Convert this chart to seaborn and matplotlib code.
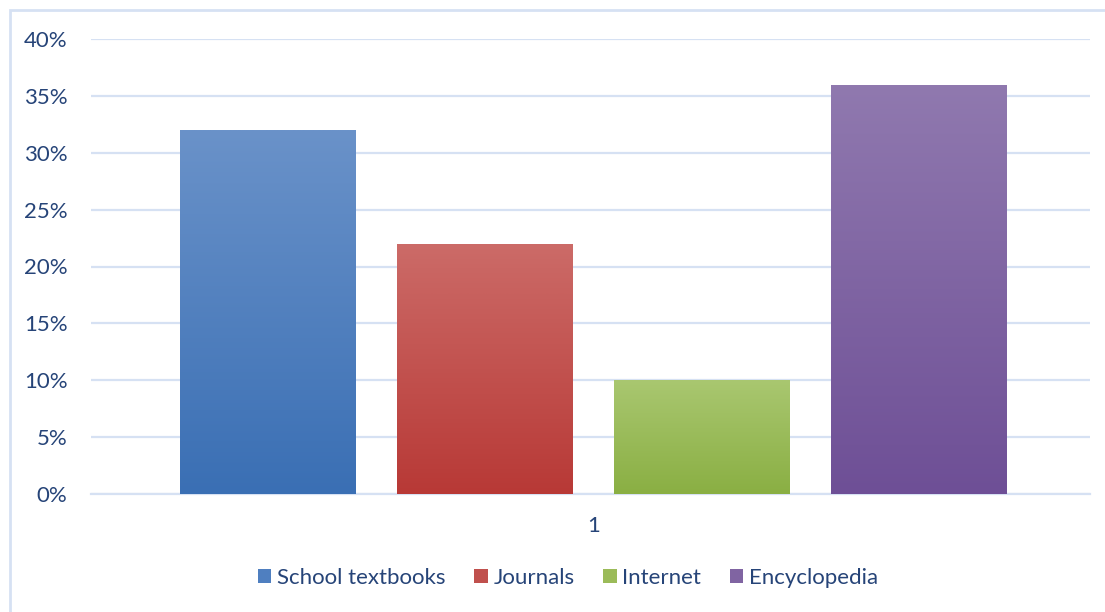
import numpy as np
import pandas as pd
import matplotlib
matplotlib.use("Agg")
import matplotlib.pyplot as plt
import seaborn as sns
from matplotlib.colors import LinearSegmentedColormap
from matplotlib.patches import Rectangle

categories = ["1"]
sources = ["School textbooks", "Journals", "Internet", "Encyclopedia"]
values = [0.32, 0.22, 0.10, 0.36]
yticks = [0.0, 0.05, 0.10, 0.15, 0.20, 0.25, 0.30, 0.35, 0.40]
ytick_labels = ["0%", "5%", "10%", "15%", "20%", "25%", "30%", "35%", "40%"]

top_colors = ["#6A92C9", "#CC6B68", "#A9C770", "#9079AF"]
bottom_colors = ["#3A6FB4", "#B83936", "#8AAF43", "#6E4F96"]
mid_colors = ["#4F7FC0", "#C0504D", "#9BBB59", "#8064A2"]

text_color = "#264478"
grid_color = "#D6E1F3"

sns.set_theme(style="white")
plt.rcParams["font.family"] = ["Lato", "DejaVu Sans"]

df = pd.DataFrame({"cat": categories * len(sources), "source": sources, "value": values})

fig = plt.figure(figsize=(11.05, 6.12), dpi=100)
ax = fig.add_axes([91 / 1105, 1 - 494 / 612, 999 / 1105, 455 / 612])

sns.barplot(data=df, x="cat", y="value", hue="source", hue_order=sources,
            palette=mid_colors, width=0.87, gap=0.19, ax=ax, legend=False,
            saturation=1, linewidth=0, zorder=3)

ax.set_ylim(0, 0.40)
ax.set_yticks(yticks)
ax.set_yticklabels(ytick_labels)
ax.yaxis.grid(True, color=grid_color, linewidth=1.6, zorder=0)
ax.set_axisbelow(True)
for s in ["left", "right", "top"]:
    ax.spines[s].set_visible(False)
ax.spines["bottom"].set_color(grid_color)
ax.spines["bottom"].set_linewidth(1.6)
ax.tick_params(axis="y", length=0, pad=17, labelsize=16, labelcolor=text_color)
ax.tick_params(axis="x", length=0, pad=16, labelsize=16, labelcolor=text_color)
ax.set_xlabel("")
ax.set_ylabel("")

# gradient overlay clipped to each bar
for patch, tc, bc in zip(ax.patches, top_colors, bottom_colors):
    x0, y0 = patch.get_x(), patch.get_y()
    w, h = patch.get_width(), patch.get_height()
    cmap = LinearSegmentedColormap.from_list("g", [bc, tc])
    grad = np.linspace(0, 1, 256).reshape(-1, 1)
    im = ax.imshow(grad, cmap=cmap, aspect="auto", origin="lower",
                   extent=[x0, x0 + w, y0, y0 + h], zorder=4)
    im.set_clip_path(patch)
ax.set_xlim(-0.503, 0.497)
ax.set_ylim(0, 0.40)

handles = [Rectangle((0, 0), 1, 1, facecolor=c, edgecolor="none") for c in mid_colors]
fig.legend(handles, sources, loc="center", bbox_to_anchor=(568 / 1105, 1 - 578 / 612),
           ncol=4, frameon=False, fontsize=16, labelcolor=text_color,
           handlelength=0.6, handleheight=0.6, handletextpad=0.25, columnspacing=1.3)

border = Rectangle((10 / 1105, -0.1), 1.2, 1 - 10 / 612 + 0.1, transform=fig.transFigure,
                   fill=False, edgecolor=grid_color, linewidth=2)
fig.patches.append(border)

fig.savefig("out.png", dpi=100)
